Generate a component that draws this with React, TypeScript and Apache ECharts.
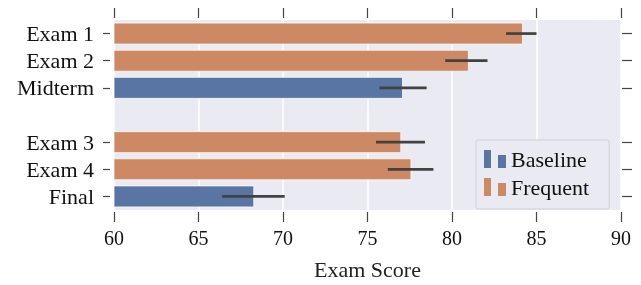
import React, { useEffect, useRef } from "react";
import * as echarts from "echarts";

const categories = ["Exam 1", "Exam 2", "Midterm", "", "Exam 3", "Exam 4", "Final"];
const baselineValues = [null, null, 77.1, null, null, null, 68.3];
const frequentValues = [84.2, 81.0, null, null, 77.0, 77.6, null];
// [low, high, category index]
const errorBars = [
  [83.2, 85.0, 0],
  [79.6, 82.1, 1],
  [75.7, 78.5, 2],
  [75.5, 78.4, 4],
  [76.2, 78.9, 5],
  [66.4, 70.1, 6],
];
const xTicks = { min: 60, max: 90, interval: 5 };

const FONT = "Liberation Serif";
const ICON = "path://M0,0H7V18H0Z M14,5H22V18H14Z";

export default function App() {
  const ref = useRef<HTMLDivElement>(null);
  useEffect(() => {
    const chart = echarts.init(ref.current!, null, { renderer: "svg" });
    const tickInterval = (i: number) => categories[i] !== "";
    chart.setOption({
      animation: false,
      textStyle: { fontFamily: FONT },
      grid: {
        left: 114,
        right: 20,
        top: 20,
        bottom: 72,
        show: true,
        backgroundColor: "#EAEAF2",
        borderWidth: 0,
      },
      legend: {
        data: ["Baseline", "Frequent"],
        orient: "vertical",
        left: 476,
        top: 140,
        icon: ICON,
        itemWidth: 22,
        itemHeight: 18,
        itemGap: 6,
        padding: [8, 20, 11, 8],
        backgroundColor: "#EAEAF2",
        borderColor: "#cfcfd4",
        borderWidth: 1,
        borderRadius: 2,
        itemStyle: { borderWidth: 0 },
        textStyle: { fontFamily: FONT, fontSize: 22, color: "#111" },
      },
      xAxis: [
        {
          type: "value",
          min: xTicks.min,
          max: xTicks.max,
          interval: xTicks.interval,
          position: "bottom",
          offset: 2,
          name: "Exam Score",
          nameLocation: "middle",
          nameGap: 46,
          nameTextStyle: { fontFamily: FONT, fontSize: 22, color: "#222" },
          axisLine: { show: false },
          axisTick: { show: true, length: 10, lineStyle: { color: "#444", width: 1.2 } },
          axisLabel: { fontFamily: FONT, fontSize: 20, color: "#111", margin: 16 },
          splitLine: { show: true, lineStyle: { color: "#ffffff", width: 1.5 } },
        },
        {
          type: "value",
          min: xTicks.min,
          max: xTicks.max,
          interval: xTicks.interval,
          position: "top",
          offset: 2,
          axisLine: { show: false },
          axisTick: { show: true, length: 10, lineStyle: { color: "#444", width: 1.2 } },
          axisLabel: { show: false },
          splitLine: { show: false },
        },
      ],
      yAxis: [
        {
          type: "category",
          data: categories,
          inverse: true,
          position: "left",
          offset: 4,
          axisLine: { show: false },
          axisTick: {
            show: true,
            length: 7,
            alignWithLabel: true,
            interval: tickInterval,
            lineStyle: { color: "#444", width: 1.2 },
          },
          axisLabel: { fontFamily: FONT, fontSize: 22, color: "#111", margin: 16, interval: 0 },
          splitLine: { show: false },
        },
        {
          type: "category",
          data: categories,
          inverse: true,
          position: "right",
          offset: 1,
          axisLine: { show: false },
          axisTick: {
            show: true,
            length: 10,
            alignWithLabel: true,
            interval: tickInterval,
            lineStyle: { color: "#444", width: 1.2 },
          },
          axisLabel: { show: false },
          splitLine: { show: false },
        },
      ],
      series: [
        {
          name: "Baseline",
          type: "bar",
          data: baselineValues,
          barWidth: 22,
          barGap: "-100%",
          itemStyle: { color: "#5975A4", borderColor: "rgba(255,255,255,0.75)", borderWidth: 1 },
        },
        {
          name: "Frequent",
          type: "bar",
          data: frequentValues,
          barWidth: 22,
          barGap: "-100%",
          itemStyle: { color: "#CC8963", borderColor: "rgba(255,255,255,0.75)", borderWidth: 1 },
        },
        {
          type: "custom",
          name: "err",
          data: errorBars,
          z: 10,
          encode: { x: [0, 1], y: 2 },
          renderItem: (params: any, api: any) => {
            const lo = api.coord([api.value(0), api.value(2)]);
            const hi = api.coord([api.value(1), api.value(2)]);
            return {
              type: "line",
              shape: { x1: lo[0], y1: lo[1], x2: hi[0], y2: hi[1] },
              style: { stroke: "#424242", lineWidth: 2.7 },
            };
          },
        },
      ],
    });
    return () => chart.dispose();
  }, []);
  return (
    <div
      ref={ref}
      style={{ position: "fixed", left: 0, top: 0, width: 641, height: 285 }}
    />
  );
}
